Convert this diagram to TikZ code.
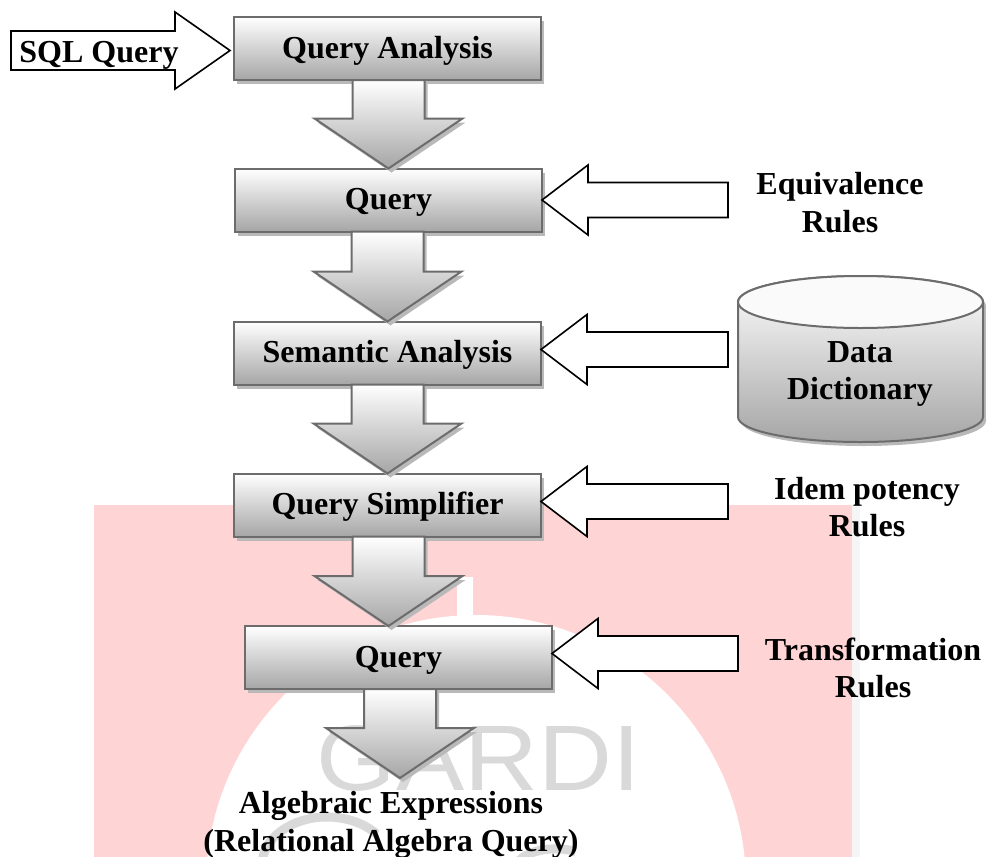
\documentclass[tikz,border=0pt]{standalone}
\usepackage{fontspec}
\setmainfont{Liberation Serif}
\setsansfont{Liberation Sans}
\usetikzlibrary{calc,shadows}

\begin{document}
\begin{tikzpicture}[x=1pt,y=-1pt]
      \tikzstyle{label} = [align=center, font=\fontsize{32}{37.5}\selectfont\bfseries]
      \tikzstyle{softshadow} = [drop shadow={shadow xshift=3pt, shadow yshift=-4pt, fill=gray!55, opacity=1}]
      \tikzstyle{stage} = [rectangle, draw=gray!85!black, line width=2pt, outer sep=0pt, top color=white, bottom color=gray!70,
        minimum width=307pt, minimum height=63pt, text height=24pt, text depth=5pt, softshadow, label]
      \tikzstyle{flow} = [draw=gray!85!black, line width=2pt, line join=miter, top color=white, bottom color=gray!70, softshadow,
        to path={($(\tikztotarget |- \tikztostart)+(-36,0)$) -- ($(\tikztotarget)+(-36,-50)$) -- ($(\tikztotarget)+(-74,-50)$) -- (\tikztotarget)
        -- ($(\tikztotarget)+(74,-50)$) -- ($(\tikztotarget)+(36,-50)$) -- ($(\tikztotarget |- \tikztostart)+(36,0)$) -- cycle}]
      \tikzstyle{feed} = [draw=black, line width=1.6pt, fill=white,
        to path={(\tikztotarget) -- ($(\tikztotarget)+(46,-35)$) -- ($(\tikztotarget)+(46,-17.5)$) -- ($(\tikztotarget -| \tikztostart)+(0,-17.5)$)
        -- ($(\tikztotarget -| \tikztostart)+(0,17.5)$) -- ($(\tikztotarget)+(46,17.5)$) -- ($(\tikztotarget)+(46,35)$) -- cycle}]

      \useasboundingbox (0,0) rectangle (986,857);
      \begin{scope}
        \clip (0,0) rectangle (986,857);
        \fill[gray!8] (852,505) rectangle (860,857);
        \fill[red!17] (94,505) rectangle (852,857);
        \fill[white] (476,885) circle (270);
        \fill[white] (457,577) rectangle (473,620);
        \node[font=\sffamily\fontsize{93}{93}\selectfont, text=gray!30, inner sep=0pt, xscale=1.1] (mark) at (478.5,758.5) {GARDI};
        \draw[gray!30, line width=9pt] (262,865) arc (180:320:65 and 48);
        \draw[gray!30, line width=9pt] (518,862) arc (200:300:40 and 20);
      \end{scope}

      \node[stage] (analysis) at (387.5,48.5) {Query Analysis};
      \node[stage] (query) at (388.5,200) {Query};
      \node[stage] (semantic) at (387.5,353) {Semantic Analysis};
      \node[stage] (simplifier) at (387.5,505) {Query Simplifier};
      \node[stage] (rewrite) at (398.5,657.5) {Query};

      \coordinate (sqlend) at (11,50.5);
      \coordinate (rulesend) at (728,199);
      \coordinate (dictend) at (728,349.5);
      \coordinate (idemend) at (728,501.5);
      \coordinate (transend) at (738,653.5);
      \coordinate (outtip) at (400,778);

      \draw[draw=gray!85!black, line width=2pt, top color=white, bottom color=gray!70, softshadow]
        (738,302) arc (180:360:122.5 and 26) -- (983,417) arc (0:180:122.5 and 25) -- cycle;
      \draw[draw=gray!85!black, line width=2pt, fill=gray!4] (860.5,302) ellipse (122.5 and 26);
      \node[label] (dict) at (860,374) {Data\\Dictionary};

      \draw[flow] (analysis.south) to (query.north);
      \draw[flow] (query.south) to (semantic.north);
      \draw[flow] (semantic.south) to (simplifier.north);
      \draw[flow] (simplifier.south) to ($(rewrite.north)+(-10,0)$);
      \draw[flow] (rewrite.south) to (outtip);

      \draw[feed] (rulesend) to (query.east);
      \draw[feed] (dictend) to ($(semantic.east)+(0,-3.5)$);
      \draw[feed] (idemend) to ($(simplifier.east)+(0,-3.5)$);
      \draw[feed] (transend) to ($(rewrite.east)+(0,-4)$);
      \draw[draw=black, line width=1.6pt, fill=white] (sqlend) |- (175,31) -- (175,12) -- (230,50.5) -- (175,89) -- (175,70) -| (sqlend);

      \node[label] (sql) at (99,55) {SQL Query};
      \node[label] (equiv) at (840,202.5) {Equivalence\\Rules};
      \node[label] (idem) at (867,507) {Idem potency\\Rules};
      \node[label] (trans) at (873,668) {Transformation\\Rules};
      \node[label] (result) at (391,825) {Algebraic Expressions\\(Relational Algebra Query)};
    \end{tikzpicture}
\end{document}
